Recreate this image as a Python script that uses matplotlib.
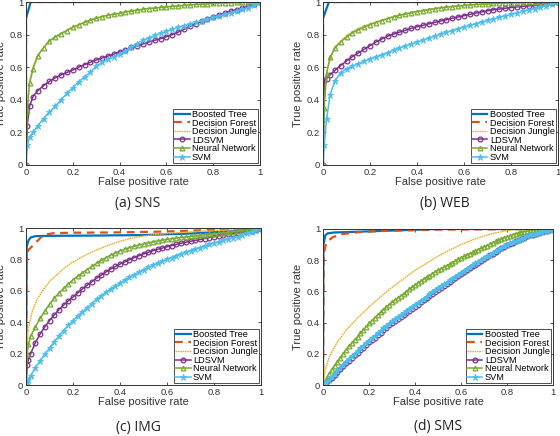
import matplotlib
matplotlib.use("Agg")
import matplotlib.pyplot as plt

# ---------------- data ----------------
models = ["Boosted Tree", "Decision Forest", "Decision Jungle", "LDSVM", "Neural Network", "SVM"]
captions = ["(a) SNS", "(b) WEB", "(c) IMG", "(d) SMS"]
tick_vals = [0, 0.2, 0.4, 0.6, 0.8, 1]
tick_labels = ["0", "0.2", "0.4", "0.6", "0.8", "1"]

# ----- (a) SNS -----
sns_fpr = [0, 0.005, 0.015, 0.03, 0.05, 0.075, 0.1, 0.125, 0.15, 0.175, 0.2, 0.225, 0.25, 0.275, 0.3,
           0.325, 0.35, 0.375, 0.4, 0.425, 0.45, 0.475, 0.5, 0.525, 0.55, 0.575, 0.6, 0.625, 0.65, 0.675,
           0.7, 0.725, 0.75, 0.775, 0.8, 0.825, 0.85, 0.875, 0.9, 0.925, 0.95, 0.975, 1.0]
sns_ldsvm = [0, 0.24, 0.36, 0.42, 0.455, 0.487, 0.513, 0.535, 0.553, 0.568, 0.583, 0.6, 0.615, 0.63, 0.644,
             0.656, 0.668, 0.68, 0.694, 0.708, 0.722, 0.73, 0.742, 0.755, 0.765, 0.775, 0.787, 0.8, 0.815, 0.832,
             0.85, 0.867, 0.882, 0.895, 0.907, 0.92, 0.932, 0.943, 0.953, 0.963, 0.973, 0.985, 1.0]
sns_nn = [0, 0.33, 0.5, 0.59, 0.67, 0.72, 0.76, 0.785, 0.805, 0.825, 0.845, 0.86, 0.875, 0.89, 0.9,
          0.91, 0.92, 0.925, 0.93, 0.94, 0.945, 0.95, 0.955, 0.96, 0.963, 0.967, 0.97, 0.973, 0.976, 0.979,
          0.982, 0.985, 0.987, 0.989, 0.991, 0.993, 0.995, 0.996, 0.997, 0.998, 0.999, 1.0, 1.0]
sns_svm = [0, 0.12, 0.17, 0.2, 0.24, 0.285, 0.325, 0.36, 0.4, 0.44, 0.475, 0.51, 0.54, 0.57, 0.605,
           0.63, 0.65, 0.665, 0.68, 0.7, 0.725, 0.745, 0.765, 0.78, 0.795, 0.808, 0.82, 0.833, 0.845, 0.855,
           0.865, 0.875, 0.885, 0.895, 0.905, 0.915, 0.925, 0.935, 0.945, 0.955, 0.965, 0.98, 1.0]
sns_tree_fpr = [0, 0, 0.02, 1]
sns_tree_tpr = [0, 0.9, 1, 1]
sns_forest_fpr = [0, 0, 1]
sns_forest_tpr = [0, 1, 1]
sns_jungle_fpr = [0, 0.005, 0.015, 0.03, 0.05, 0.1, 0.15, 0.2, 0.3, 0.4, 0.5, 0.6, 0.7, 0.8, 0.9, 1]
sns_jungle_tpr = [0, 0.34, 0.51, 0.6, 0.675, 0.765, 0.81, 0.848, 0.903, 0.933, 0.957, 0.972, 0.983, 0.992, 0.997, 1]

# ----- (b) WEB -----
web_fpr = sns_fpr
web_ldsvm = [0, 0.52, 0.53, 0.553, 0.58, 0.61, 0.638, 0.665, 0.687, 0.71, 0.732, 0.754, 0.773, 0.79, 0.803,
             0.815, 0.826, 0.838, 0.848, 0.857, 0.866, 0.875, 0.883, 0.891, 0.9, 0.908, 0.916, 0.924, 0.932, 0.939,
             0.946, 0.952, 0.957, 0.962, 0.966, 0.97, 0.973, 0.976, 0.979, 0.983, 0.988, 0.994, 1.0]
web_nn = [0, 0.35, 0.56, 0.66, 0.716, 0.755, 0.785, 0.811, 0.83, 0.846, 0.861, 0.874, 0.886, 0.898, 0.909,
          0.918, 0.926, 0.934, 0.941, 0.947, 0.953, 0.959, 0.964, 0.968, 0.972, 0.976, 0.979, 0.982, 0.985, 0.987,
          0.989, 0.991, 0.993, 0.994, 0.995, 0.996, 0.997, 0.998, 0.999, 0.999, 1.0, 1.0, 1.0]
web_svm = [0, 0.12, 0.28, 0.43, 0.515, 0.565, 0.59, 0.607, 0.621, 0.636, 0.65, 0.663, 0.676, 0.69, 0.705,
           0.718, 0.73, 0.742, 0.754, 0.766, 0.778, 0.79, 0.803, 0.814, 0.825, 0.836, 0.847, 0.857, 0.867, 0.877,
           0.887, 0.896, 0.905, 0.915, 0.924, 0.933, 0.942, 0.951, 0.96, 0.969, 0.978, 0.988, 1.0]
web_tree_fpr = [0, 0, 0.025, 1]
web_tree_tpr = [0, 0.9, 1, 1]
web_forest_fpr = [0, 0, 1]
web_forest_tpr = [0, 1, 1]
web_jungle_fpr = [0, 0.005, 0.02, 0.05, 0.1, 0.15, 0.2, 0.3, 0.4, 0.5, 0.6, 0.8, 1]
web_jungle_tpr = [0, 0.4, 0.6, 0.725, 0.795, 0.838, 0.866, 0.912, 0.944, 0.966, 0.98, 0.996, 1]

# ----- (c) IMG -----
img_fpr = [0, 0.005, 0.01, 0.02, 0.04, 0.06, 0.08, 0.1, 0.12, 0.14, 0.16, 0.18, 0.2, 0.22, 0.24, 0.26,
           0.28, 0.3, 0.32, 0.34, 0.36, 0.38, 0.4, 0.42, 0.44, 0.46, 0.48, 0.5, 0.52, 0.54, 0.56, 0.58,
           0.6, 0.62, 0.64, 0.66, 0.68, 0.7, 0.72, 0.74, 0.76, 0.78, 0.8, 0.82, 0.84, 0.86, 0.88, 0.9,
           0.92, 0.94, 0.96, 0.98, 1.0]
img_ldsvm = [0, 0.13, 0.16, 0.2, 0.27, 0.325, 0.37, 0.41, 0.446, 0.479, 0.509, 0.536, 0.56, 0.586, 0.612, 0.636,
             0.658, 0.68, 0.7, 0.72, 0.739, 0.755, 0.77, 0.784, 0.798, 0.811, 0.823, 0.835, 0.845, 0.855, 0.864, 0.872,
             0.88, 0.888, 0.896, 0.903, 0.909, 0.915, 0.921, 0.927, 0.933, 0.939, 0.945, 0.95, 0.955, 0.96, 0.964, 0.968,
             0.973, 0.978, 0.983, 0.989, 0.995]
img_nn = [0, 0.2, 0.26, 0.31, 0.37, 0.425, 0.47, 0.515, 0.553, 0.585, 0.615, 0.643, 0.67, 0.693, 0.714, 0.735,
          0.755, 0.775, 0.794, 0.811, 0.827, 0.841, 0.855, 0.865, 0.875, 0.884, 0.892, 0.9, 0.906, 0.912, 0.918, 0.923,
          0.928, 0.932, 0.936, 0.94, 0.943, 0.947, 0.95, 0.953, 0.957, 0.96, 0.963, 0.966, 0.969, 0.973, 0.976, 0.979,
          0.983, 0.986, 0.99, 0.995, 1.0]
img_svm = [0, 0.015, 0.03, 0.06, 0.11, 0.155, 0.195, 0.235, 0.275, 0.312, 0.347, 0.38, 0.41, 0.439, 0.466, 0.493,
           0.519, 0.545, 0.568, 0.59, 0.61, 0.63, 0.65, 0.668, 0.686, 0.703, 0.719, 0.735, 0.749, 0.763, 0.776, 0.788,
           0.8, 0.812, 0.824, 0.835, 0.845, 0.855, 0.865, 0.875, 0.885, 0.895, 0.905, 0.913, 0.921, 0.929, 0.937, 0.945,
           0.955, 0.965, 0.975, 0.987, 1.0]
img_tree_fpr = [0, 0.003, 0.01, 0.02, 0.04, 0.1, 0.3, 0.5, 0.7, 0.9, 1.0]
img_tree_tpr = [0, 0.88, 0.92, 0.94, 0.948, 0.95, 0.952, 0.955, 0.965, 0.98, 1.0]
img_forest_fpr = [0, 0.003, 0.01, 0.024, 0.05, 0.074, 0.116, 0.2, 0.4, 0.6, 0.8, 1]
img_forest_tpr = [0, 0.82, 0.86, 0.88, 0.92, 0.955, 0.967, 0.97, 0.972, 0.978, 0.988, 1]
img_jungle_fpr = [0, 0.003, 0.01, 0.025, 0.045, 0.075, 0.1, 0.13, 0.16, 0.19, 0.22, 0.25, 0.3, 0.35, 0.4,
                  0.45, 0.5, 0.6, 0.7, 0.8, 0.9, 1]
img_jungle_tpr = [0, 0.23, 0.36, 0.46, 0.54, 0.61, 0.66, 0.7, 0.74, 0.775, 0.8, 0.825, 0.86, 0.89, 0.915,
                  0.935, 0.95, 0.965, 0.975, 0.985, 0.993, 1]

# ----- (d) SMS -----
sms_fpr = [0, 0.0125, 0.025, 0.0375, 0.05, 0.0625, 0.075, 0.0875, 0.1, 0.1125, 0.125, 0.1375, 0.15, 0.1625,
           0.175, 0.1875, 0.2, 0.2125, 0.225, 0.2375, 0.25, 0.2625, 0.275, 0.2875, 0.3, 0.3125, 0.325, 0.3375,
           0.35, 0.3625, 0.375, 0.3875, 0.4, 0.4125, 0.425, 0.4375, 0.45, 0.4625, 0.475, 0.4875, 0.5, 0.5125,
           0.525, 0.5375, 0.55, 0.5625, 0.575, 0.5875, 0.6, 0.6125, 0.625, 0.6375, 0.65, 0.6625, 0.675, 0.6875,
           0.7, 0.7125, 0.725, 0.7375, 0.75, 0.7625, 0.775, 0.7875, 0.8, 0.8125, 0.825, 0.8375, 0.85, 0.8625,
           0.875, 0.8875, 0.9, 0.9125, 0.925, 0.9375, 0.95, 0.9625, 0.975, 0.9875, 1.0]
sms_ldsvm = [0, 0.016, 0.032, 0.048, 0.064, 0.082, 0.1, 0.12, 0.14, 0.157, 0.174, 0.19, 0.207, 0.224,
             0.24, 0.256, 0.273, 0.289, 0.304, 0.32, 0.336, 0.351, 0.367, 0.382, 0.398, 0.411, 0.424, 0.437,
             0.45, 0.464, 0.477, 0.49, 0.503, 0.516, 0.529, 0.542, 0.555, 0.569, 0.582, 0.595, 0.608, 0.621,
             0.634, 0.646, 0.659, 0.672, 0.685, 0.697, 0.71, 0.722, 0.735, 0.747, 0.76, 0.772, 0.784, 0.796,
             0.808, 0.82, 0.831, 0.842, 0.853, 0.864, 0.875, 0.886, 0.897, 0.905, 0.913, 0.921, 0.929, 0.937,
             0.944, 0.952, 0.959, 0.964, 0.969, 0.974, 0.979, 0.984, 0.989, 0.995, 1.0]
sms_nn = [0, 0.035, 0.07, 0.098, 0.125, 0.15, 0.175, 0.2, 0.225, 0.247, 0.268, 0.289, 0.31, 0.332,
          0.353, 0.374, 0.395, 0.413, 0.43, 0.448, 0.465, 0.481, 0.498, 0.514, 0.53, 0.544, 0.558, 0.571,
          0.585, 0.599, 0.613, 0.626, 0.64, 0.653, 0.665, 0.678, 0.69, 0.701, 0.713, 0.724, 0.735, 0.745,
          0.755, 0.765, 0.775, 0.785, 0.795, 0.805, 0.815, 0.824, 0.833, 0.841, 0.85, 0.859, 0.868, 0.876,
          0.885, 0.894, 0.903, 0.911, 0.92, 0.928, 0.935, 0.943, 0.95, 0.956, 0.963, 0.969, 0.975, 0.979,
          0.983, 0.987, 0.99, 0.992, 0.994, 0.996, 0.998, 0.999, 1.0, 1.0, 1.0]
sms_svm = [0, 0.018, 0.035, 0.053, 0.07, 0.09, 0.11, 0.13, 0.15, 0.167, 0.184, 0.201, 0.218, 0.235,
           0.252, 0.268, 0.285, 0.301, 0.316, 0.332, 0.348, 0.363, 0.379, 0.394, 0.41, 0.423, 0.436, 0.449,
           0.462, 0.476, 0.489, 0.502, 0.515, 0.528, 0.541, 0.554, 0.567, 0.581, 0.594, 0.607, 0.62, 0.632,
           0.645, 0.657, 0.67, 0.682, 0.695, 0.707, 0.72, 0.732, 0.744, 0.756, 0.768, 0.779, 0.791, 0.803,
           0.815, 0.826, 0.836, 0.847, 0.858, 0.868, 0.879, 0.889, 0.9, 0.908, 0.915, 0.923, 0.93, 0.938,
           0.945, 0.953, 0.96, 0.965, 0.97, 0.975, 0.98, 0.985, 0.99, 0.995, 1.0]
sms_tree_fpr = [0, 0.002, 0.01, 0.02, 0.05, 0.1, 0.2, 0.3, 0.5, 1]
sms_tree_tpr = [0, 0.9, 0.96, 0.972, 0.978, 0.98, 0.985, 0.99, 1, 1]
sms_forest_fpr = [0, 0.003, 0.01, 0.02, 0.04, 0.075, 0.15, 0.25, 0.5, 1]
sms_forest_tpr = [0, 0.83, 0.89, 0.92, 0.945, 0.966, 0.979, 0.987, 0.996, 1]
sms_jungle_fpr = [0, 0.01, 0.03, 0.06, 0.1, 0.15, 0.2, 0.25, 0.3, 0.35, 0.4, 0.45, 0.5, 0.55, 0.6,
                  0.65, 0.7, 0.75, 0.8, 0.85, 0.9, 1.0]
sms_jungle_tpr = [0, 0.1, 0.19, 0.27, 0.35, 0.43, 0.5, 0.565, 0.625, 0.68, 0.735, 0.78, 0.825, 0.865, 0.9,
                  0.93, 0.955, 0.975, 0.99, 0.998, 1.0, 1.0]

panels = [
    (sns_tree_fpr, sns_tree_tpr, sns_forest_fpr, sns_forest_tpr, sns_jungle_fpr, sns_jungle_tpr,
     sns_fpr, sns_ldsvm, sns_nn, sns_svm),
    (web_tree_fpr, web_tree_tpr, web_forest_fpr, web_forest_tpr, web_jungle_fpr, web_jungle_tpr,
     web_fpr, web_ldsvm, web_nn, web_svm),
    (img_tree_fpr, img_tree_tpr, img_forest_fpr, img_forest_tpr, img_jungle_fpr, img_jungle_tpr,
     img_fpr, img_ldsvm, img_nn, img_svm),
    (sms_tree_fpr, sms_tree_tpr, sms_forest_fpr, sms_forest_tpr, sms_jungle_fpr, sms_jungle_tpr,
     sms_fpr, sms_ldsvm, sms_nn, sms_svm),
]

# ---------------- style ----------------
C_TREE = "#0072BD"
C_FOREST = "#D95319"
C_JUNGLE = "#EDB120"
C_LDSVM = "#7E2F8E"
C_NN = "#77AC30"
C_SVM = "#4DBEEE"
AX_COL = "#333333"

plt.rcParams["font.family"] = ["Liberation Sans", "DejaVu Sans"]

W, H = 560, 436
fig = plt.figure(figsize=(W / 100, H / 100), dpi=100)

# axes boxes in pixels: left, top, right, bottom
boxes = [(26, 2, 260, 165), (323, 2, 558, 165), (26, 228, 261, 385), (323, 229, 553, 385)]
cap_pos = [(138, 203), (445, 203), (138, 427), (438, 426)]

for i, (box, pdata) in enumerate(zip(boxes, panels)):
    l, t, r, b = box
    ax = fig.add_axes([l / W, 1 - b / H, (r - l) / W, (b - t) / H])
    (tf, tt, ff, ft, jf, jt, gf, ld, nn, sv) = pdata
    ax.plot(tf, tt, color=C_TREE, lw=1.6, label=models[0])
    ax.plot(ff, ft, color=C_FOREST, lw=1.6, ls=(0, (3.5, 2.5)), label=models[1])
    ax.plot(jf, jt, color=C_JUNGLE, lw=1.0, ls=(0, (1.2, 0.5)), label=models[2])
    ax.plot(gf, ld, color=C_LDSVM, lw=1.1, marker="o", ms=3.4, mfc="none", mew=0.9, label=models[3])
    ax.plot(gf, nn, color=C_NN, lw=1.1, marker="^", ms=3.4, mfc="none", mew=0.9, label=models[4])
    ax.plot(gf, sv, color=C_SVM, lw=1.1, marker="*", ms=4.8, mew=0.6, label=models[5])

    ax.set_xlim(0, 1)
    ax.set_ylim(0, 1)
    ax.set_xticks(tick_vals)
    ax.set_xticklabels(tick_labels)
    ax.set_yticks(tick_vals)
    ax.set_yticklabels(tick_labels)
    ax.tick_params(direction="in", length=2.5, width=0.6, labelsize=6.8, colors=AX_COL,
                   top=True, right=True, pad=2)
    for s in ax.spines.values():
        s.set_color(AX_COL)
        s.set_linewidth(0.7)
    ax.set_xlabel("False positive rate", fontsize=8, color=AX_COL)
    ax.set_ylabel("True positive rate", fontsize=8, color=AX_COL)
    ax.xaxis.set_label_coords(0.5, -12 / (b - t))
    ax.xaxis.label.set_va("top")
    ax.yaxis.set_label_coords(-20 / (r - l), 0.5)

    leg = ax.legend(loc="lower right", fontsize=6.6, frameon=True, fancybox=False,
                    edgecolor=AX_COL, framealpha=1, borderaxespad=0.2, borderpad=0.15,
                    labelspacing=-0.05, handlelength=1.7, handletextpad=0.25, numpoints=1)
    leg.get_frame().set_linewidth(0.6)

    cx, cy = cap_pos[i]
    fig.text(cx / W, 1 - cy / H, captions[i], ha="center", va="center",
             fontsize=10, family=["Open Sans", "DejaVu Sans"], color="#222222")

fig.savefig("out.png", dpi=100)
